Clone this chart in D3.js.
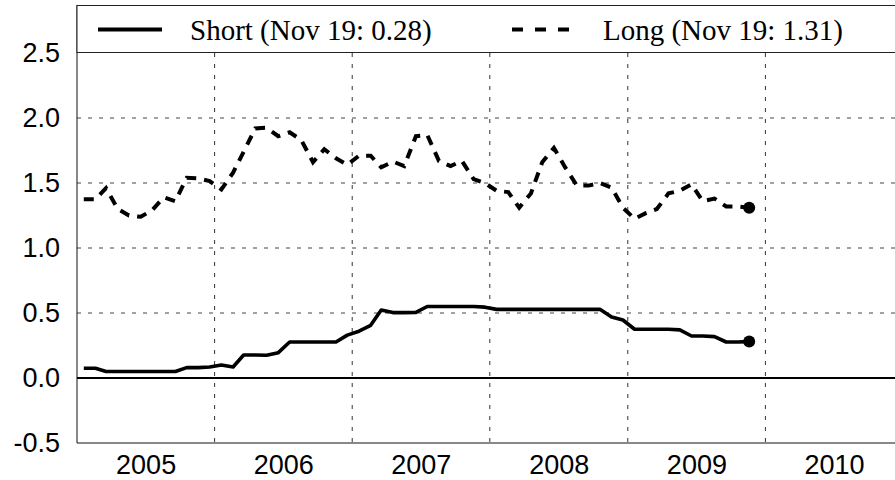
<!DOCTYPE html>
<html>
<head>
<meta charset="utf-8">
<script src="https://cdn.jsdelivr.net/npm/d3@7"></script>
<style>
  html, body { margin: 0; padding: 0; background: #fff; }
  svg { display: block; }
  .tick text { font-family: "Liberation Sans", Arial, sans-serif; font-size: 27px; fill: #000; }
  .legend text { font-family: "Liberation Serif", "Times New Roman", serif; font-size: 29px; fill: #000; }
</style>
</head>
<body>
<svg id="chart" width="895" height="480"></svg>
<script>
// Monthly readings (19th of each month), Jan 2005 .. Nov 2009
const shortRate = [
  0.075, 0.075, 0.05, 0.05, 0.05, 0.05, 0.05, 0.05, 0.05, 0.08,
  0.08, 0.085, 0.10, 0.085, 0.177, 0.177, 0.175, 0.195, 0.277, 0.277,
  0.277, 0.277, 0.277, 0.33, 0.36, 0.405, 0.523, 0.503, 0.503, 0.505,
  0.55, 0.55, 0.55, 0.55, 0.55, 0.545, 0.528, 0.528, 0.528, 0.528,
  0.528, 0.528, 0.528, 0.528, 0.528, 0.528, 0.47, 0.446, 0.375, 0.375,
  0.375, 0.375, 0.37, 0.323, 0.323, 0.318, 0.277, 0.277, 0.28,
];
const longRate = [
  1.375, 1.375, 1.46, 1.30, 1.25, 1.24, 1.29, 1.39, 1.36, 1.54,
  1.535, 1.515, 1.45, 1.58, 1.74, 1.92, 1.925, 1.86, 1.89, 1.83,
  1.66, 1.76, 1.69, 1.64, 1.71, 1.71, 1.62, 1.665, 1.63, 1.86,
  1.87, 1.67, 1.63, 1.67, 1.53, 1.50, 1.44, 1.43, 1.31, 1.42,
  1.66, 1.77, 1.62, 1.48, 1.48, 1.50, 1.465, 1.31, 1.225, 1.27,
  1.30, 1.42, 1.44, 1.49, 1.36, 1.38, 1.32, 1.32, 1.31,
];
const yTicks = [-0.5, 0.0, 0.5, 1.0, 1.5, 2.0, 2.5];
const yGrid = [0.5, 1.0, 1.5, 2.0];
const yearLabels = [2005, 2006, 2007, 2008, 2009, 2010];
const yearLines = [2006, 2007, 2008, 2009, 2010];
const legendLabels = ["Short (Nov 19: 0.28)", "Long (Nov 19: 1.31)"];

const dates = shortRate.map((_, i) => new Date(2005, i, 19));

const svg = d3.select("#chart");
const W = 895;
const plotLeft = 77, plotTop = 5, plotBottom = 443;

const x = d3
  .scaleTime()
  .domain([new Date(2005, 0, 1), new Date(2011, 0, 1)])
  .range([plotLeft, 903]);

const y = d3.scaleLinear().domain([-0.5, 2.5]).range([plotBottom, 53]);

// grid
svg
  .append("g")
  .selectAll("line")
  .data(yGrid)
  .join("line")
  .attr("x1", plotLeft)
  .attr("x2", W)
  .attr("y1", (d) => y(d))
  .attr("y2", (d) => y(d))
  .attr("stroke", "#444")
  .attr("stroke-dasharray", "4,7");

svg
  .append("g")
  .selectAll("line")
  .data(yearLines)
  .join("line")
  .attr("x1", (d) => x(new Date(d, 0, 1)))
  .attr("x2", (d) => x(new Date(d, 0, 1)))
  .attr("y1", y(2.5))
  .attr("y2", plotBottom)
  .attr("stroke", "#333")
  .attr("stroke-dasharray", "4,7");

// frame
svg
  .append("line")
  .attr("x1", plotLeft)
  .attr("x2", plotLeft)
  .attr("y1", plotTop)
  .attr("y2", plotBottom)
  .attr("stroke", "#111");
svg
  .append("line")
  .attr("x1", plotLeft)
  .attr("x2", W)
  .attr("y1", plotBottom)
  .attr("y2", plotBottom)
  .attr("stroke", "#111");

// zero line
svg
  .append("line")
  .attr("x1", plotLeft)
  .attr("x2", W)
  .attr("y1", y(0))
  .attr("y2", y(0))
  .attr("stroke", "#000")
  .attr("stroke-width", 2);

// axes
const yAxis = d3
  .axisLeft(y)
  .tickValues(yTicks)
  .tickSize(0)
  .tickPadding(17)
  .tickFormat((d) => d.toFixed(1));
svg
  .append("g")
  .attr("transform", `translate(${plotLeft},0)`)
  .call(yAxis)
  .call((g) => g.select(".domain").remove());

const xAxis = d3
  .axisBottom(x)
  .tickValues(yearLabels.map((d) => new Date(d, 6, 2)))
  .tickSize(0)
  .tickPadding(12)
  .tickFormat(d3.timeFormat("%Y"));
svg
  .append("g")
  .attr("transform", `translate(0,${plotBottom})`)
  .call(xAxis)
  .call((g) => g.select(".domain").remove());

// series
const line = d3
  .line()
  .x((d, i) => x(dates[i]))
  .y((d) => y(d));

svg
  .append("path")
  .datum(shortRate)
  .attr("d", line)
  .attr("fill", "none")
  .attr("stroke", "#000")
  .attr("stroke-width", 3.6)
  .attr("stroke-linejoin", "round");

svg
  .append("path")
  .datum(longRate)
  .attr("d", line)
  .attr("fill", "none")
  .attr("stroke", "#000")
  .attr("stroke-width", 4)
  .attr("stroke-dasharray", "10,8");

const last = dates.length - 1;
svg
  .append("g")
  .selectAll("circle")
  .data([shortRate[last], longRate[last]])
  .join("circle")
  .attr("cx", x(dates[last]))
  .attr("cy", (d) => y(d))
  .attr("r", 6)
  .attr("fill", "#000");

// legend
const legend = svg.append("g").attr("class", "legend");
legend
  .append("rect")
  .attr("x", plotLeft)
  .attr("y", plotTop + 0.5)
  .attr("width", 840)
  .attr("height", 47)
  .attr("fill", "#fff")
  .attr("stroke", "#222");

legend
  .append("line")
  .attr("x1", 98)
  .attr("x2", 162)
  .attr("y1", 29.5)
  .attr("y2", 29.5)
  .attr("stroke", "#000")
  .attr("stroke-width", 4);
legend
  .append("line")
  .attr("x1", 512)
  .attr("x2", 569)
  .attr("y1", 29.5)
  .attr("y2", 29.5)
  .attr("stroke", "#000")
  .attr("stroke-width", 4)
  .attr("stroke-dasharray", "11,12");

legend
  .selectAll("text")
  .data(legendLabels)
  .join("text")
  .attr("x", (d, i) => (i === 0 ? 190 : 603))
  .attr("y", 40)
  .text((d) => d);
</script>
</body>
</html>
